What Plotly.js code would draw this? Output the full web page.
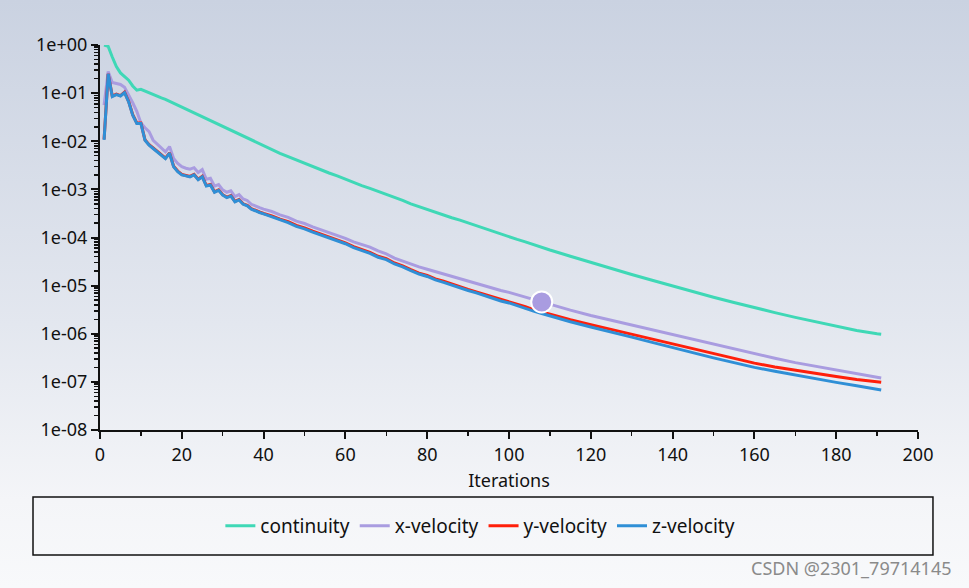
<!DOCTYPE html>
<html>
<head>
<meta charset="utf-8">
<script src="https://cdn.plot.ly/plotly-3.0.1.min.js"></script>
<style>
  html, body { margin: 0; padding: 0; }
  body { width: 969px; height: 588px; background: linear-gradient(to bottom, #cad2e1 0%, #e3e7ef 55%, #f4f5f8 85%, #f8f9fb 100%); }
  #chart { width: 969px; height: 588px; }
</style>
</head>
<body>
<div id="chart"></div>
<script>
// Iterations (shared x values)
const iterations = [1,2,3,4,5,6,7,8,9,10,11,12,13,14,15,16,17,18,19,20,21,22,23,24,25,26,27,28,29,30,31,32,33,34,35,36,37,38,39,40,
  42,44,46,48,50,52,54,56,58,60,62,64,66,68,70,72,74,76,78,80,82,84,86,88,90,92,94,96,98,100,102,104,106,108,110,
  115,120,125,130,135,140,145,150,155,160,165,170,175,180,185,190,191];

const continuity = [1.0,0.933,0.562,0.355,0.263,0.219,0.186,0.141,0.115,0.120,0.110,0.102,9.33e-2,8.71e-2,7.94e-2,7.41e-2,6.76e-2,6.17e-2,5.62e-2,5.13e-2,
  4.68e-2,4.27e-2,3.89e-2,3.55e-2,3.24e-2,2.95e-2,2.69e-2,2.45e-2,2.19e-2,2.00e-2,1.82e-2,1.66e-2,1.51e-2,1.38e-2,1.26e-2,1.15e-2,1.05e-2,9.55e-3,8.71e-3,7.94e-3,
  6.61e-3,5.62e-3,4.79e-3,4.07e-3,3.47e-3,3.02e-3,2.57e-3,2.19e-3,1.91e-3,1.62e-3,1.41e-3,1.20e-3,1.05e-3,9.12e-4,7.94e-4,6.76e-4,5.89e-4,5.01e-4,4.37e-4,3.80e-4,
  3.39e-4,2.95e-4,2.57e-4,2.29e-4,2.00e-4,1.74e-4,1.55e-4,1.35e-4,1.17e-4,1.05e-4,9.12e-5,8.13e-5,7.08e-5,6.31e-5,5.50e-5,
  4.07e-5,3.02e-5,2.24e-5,1.70e-5,1.29e-5,9.77e-6,7.41e-6,5.75e-6,4.47e-6,3.47e-6,2.75e-6,2.19e-6,1.78e-6,1.45e-6,1.17e-6,1.00e-6,9.77e-7];

const xVelocity = [5.62e-2,0.282,0.166,0.158,0.151,0.132,9.33e-2,6.31e-2,4.17e-2,2.40e-2,1.91e-2,1.58e-2,1.05e-2,8.71e-3,7.41e-3,6.03e-3,7.76e-3,4.37e-3,3.47e-3,2.95e-3,
  2.75e-3,2.63e-3,2.82e-3,2.24e-3,2.57e-3,1.62e-3,1.70e-3,1.17e-3,1.26e-3,9.77e-4,8.71e-4,9.33e-4,7.08e-4,7.76e-4,6.31e-4,5.89e-4,4.90e-4,4.47e-4,4.17e-4,3.89e-4,
  3.47e-4,2.95e-4,2.63e-4,2.19e-4,1.95e-4,1.66e-4,1.45e-4,1.26e-4,1.07e-4,9.55e-5,8.13e-5,7.08e-5,6.31e-5,5.25e-5,4.57e-5,3.72e-5,3.24e-5,2.75e-5,2.45e-5,2.19e-5,
  1.95e-5,1.74e-5,1.55e-5,1.38e-5,1.23e-5,1.12e-5,1.00e-5,8.91e-6,7.94e-6,7.24e-6,6.46e-6,5.75e-6,5.13e-6,4.57e-6,3.98e-6,
  3.09e-6,2.40e-6,1.91e-6,1.51e-6,1.20e-6,9.55e-7,7.59e-7,6.03e-7,4.79e-7,3.80e-7,3.09e-7,2.51e-7,2.09e-7,1.74e-7,1.45e-7,1.23e-7,1.20e-7];

const yVelocity = [1.10e-2,0.251,8.71e-2,9.55e-2,8.91e-2,0.105,6.76e-2,3.55e-2,2.40e-2,2.40e-2,1.07e-2,8.51e-3,7.24e-3,6.17e-3,5.25e-3,4.47e-3,5.75e-3,3.02e-3,2.40e-3,2.04e-3,
  1.95e-3,1.86e-3,2.04e-3,1.62e-3,1.86e-3,1.20e-3,1.26e-3,8.91e-4,9.77e-4,7.76e-4,6.92e-4,7.41e-4,5.62e-4,6.17e-4,5.01e-4,4.68e-4,3.98e-4,3.63e-4,3.39e-4,3.16e-4,
  2.82e-4,2.40e-4,2.14e-4,1.78e-4,1.58e-4,1.35e-4,1.17e-4,1.02e-4,8.71e-5,7.76e-5,6.46e-5,5.62e-5,4.90e-5,4.07e-5,3.63e-5,2.95e-5,2.57e-5,2.14e-5,1.82e-5,1.62e-5,
  1.38e-5,1.23e-5,1.07e-5,9.55e-6,8.32e-6,7.41e-6,6.61e-6,5.89e-6,5.13e-6,4.68e-6,4.07e-6,3.63e-6,3.16e-6,2.82e-6,2.51e-6,
  1.95e-6,1.55e-6,1.23e-6,9.77e-7,7.59e-7,6.03e-7,4.79e-7,3.80e-7,3.09e-7,2.45e-7,2.04e-7,1.74e-7,1.48e-7,1.29e-7,1.12e-7,1.00e-7,9.77e-8];

const zVelocity = [1.07e-2,0.251,8.51e-2,9.33e-2,8.71e-2,0.102,6.61e-2,3.47e-2,2.34e-2,2.34e-2,1.05e-2,8.32e-3,7.08e-3,6.03e-3,5.13e-3,4.37e-3,5.62e-3,2.95e-3,2.34e-3,2.00e-3,
  1.91e-3,1.82e-3,2.00e-3,1.58e-3,1.82e-3,1.17e-3,1.23e-3,8.71e-4,9.55e-4,7.59e-4,6.76e-4,7.24e-4,5.50e-4,6.03e-4,4.90e-4,4.57e-4,3.89e-4,3.55e-4,3.31e-4,3.09e-4,
  2.69e-4,2.29e-4,2.04e-4,1.70e-4,1.51e-4,1.29e-4,1.12e-4,9.77e-5,8.32e-5,7.41e-5,6.17e-5,5.37e-5,4.68e-5,3.89e-5,3.47e-5,2.82e-5,2.45e-5,2.04e-5,1.74e-5,1.55e-5,
  1.32e-5,1.17e-5,1.02e-5,9.12e-6,7.94e-6,7.08e-6,6.17e-6,5.50e-6,4.79e-6,4.37e-6,3.80e-6,3.39e-6,2.95e-6,2.63e-6,2.34e-6,
  1.78e-6,1.38e-6,1.10e-6,8.51e-7,6.61e-7,5.13e-7,3.98e-7,3.16e-7,2.51e-7,2.00e-7,1.66e-7,1.38e-7,1.15e-7,9.77e-8,8.32e-8,7.08e-8,6.76e-8];

// highlighted (hovered) point on x-velocity
const highlightX = [108];
const highlightY = [4.57e-6];

const seriesNames = ['continuity', 'x-velocity', 'y-velocity', 'z-velocity'];
const seriesColors = ['#3fd8b6', '#a99ce0', '#ff1f0a', '#2f8fd6'];

// y tick labels: default d3 '.0e' labels and the text shown for them
const yTickDefault = ['1e+0', '1e-1', '1e-2', '1e-3', '1e-4', '1e-5', '1e-6', '1e-7', '1e-8'];
const yTickText = ['1e+00', '1e-01', '1e-02', '1e-03', '1e-04', '1e-05', '1e-06', '1e-07', '1e-08'];

const yAlias = {};
yTickDefault.forEach((k, i) => {
  yAlias[k] = yTickText[i];
  yAlias[k.replace('-', '\u2212')] = yTickText[i];
});

const FONT = 'Noto Sans, Roboto, sans-serif';
const seriesData = [continuity, xVelocity, yVelocity, zVelocity];

const traces = seriesData.map((ys, i) => ({
  type: 'scatter', mode: 'lines', name: seriesNames[i],
  x: iterations, y: ys,
  line: { color: seriesColors[i], width: 3 }
}));

traces.push({
  type: 'scatter', mode: 'markers', x: highlightX, y: highlightY,
  showlegend: false, hoverinfo: 'skip',
  marker: { size: 21, color: seriesColors[1], line: { color: '#ffffff', width: 2 } }
});

const layout = {
  width: 969, height: 588,
  paper_bgcolor: 'rgba(0,0,0,0)',
  plot_bgcolor: 'rgba(0,0,0,0)',
  margin: { l: 100, r: 51, t: 45, b: 158 },
  font: { family: FONT, size: 16, color: '#111' },
  showlegend: true,
  xaxis: {
    range: [0, 200], dtick: 20, tick0: 0,
    showgrid: false, zeroline: false,
    showline: true, linecolor: '#111', linewidth: 2,
    ticks: 'outside', ticklen: 7, tickwidth: 2, tickcolor: '#111',
    minor: { ticks: 'outside', dtick: 10, ticklen: 4, tickwidth: 1.5, tickcolor: '#111', showgrid: false },
    tickfont: { family: FONT, size: 18, color: '#111' },
    title: { text: 'Iterations', font: { family: FONT, size: 18, color: '#111' }, standoff: 10 }
  },
  yaxis: {
    type: 'log', range: [-8, 0],
    tickmode: 'linear', tick0: 0, dtick: 1, tickformat: '.0e',
    labelalias: yAlias,
    showgrid: false, zeroline: false,
    showline: true, linecolor: '#111', linewidth: 2,
    ticks: 'outside', ticklen: 7, tickwidth: 2, tickcolor: '#111',
    minor: { dtick: 'D1', ticks: 'outside', ticklen: 4, tickwidth: 1.5, tickcolor: '#111', showgrid: false },
    tickfont: { family: FONT, size: 18, color: '#111' }
  },
  legend: {
    orientation: 'h', x: 0.465, xanchor: 'center', y: -0.249, yanchor: 'middle',
    bgcolor: 'rgba(0,0,0,0)', borderwidth: 0,
    font: { family: FONT, size: 19, color: '#111' },
    itemwidth: 30, tracegroupgap: 0, traceorder: 'normal'
  },
  shapes: [{
    type: 'rect', xref: 'paper', yref: 'paper',
    x0: -0.0819, x1: 1.0183, y0: -0.174, y1: -0.3247,
    line: { color: '#111', width: 1.5 }, fillcolor: 'rgba(0,0,0,0)'
  }],
  annotations: [{
    xref: 'paper', yref: 'paper', x: 1.0428, y: -0.358, xanchor: 'right', yanchor: 'middle',
    text: 'CSDN @2301_79714145', showarrow: false,
    font: { family: FONT, size: 18, color: '#8a8a8a' }
  }]
};

Plotly.newPlot('chart', traces, layout, { displayModeBar: false, staticPlot: true });
</script>
</body>
</html>
